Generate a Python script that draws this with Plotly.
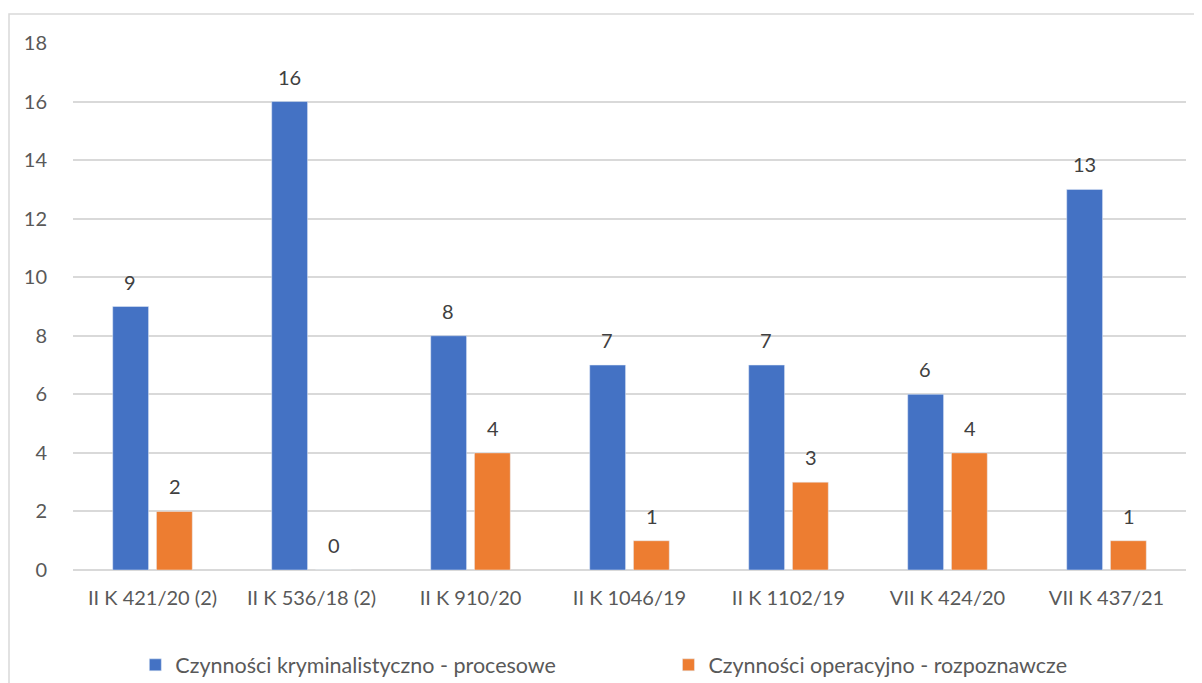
import plotly.graph_objects as go

cases = ["II K 421/20 (2)", "II K 536/18 (2)", "II K 910/20", "II K 1046/19",
         "II K 1102/19", "VII K 424/20", "VII K 437/21"]
procesowe = [9, 16, 8, 7, 7, 6, 13]
rozpoznawcze = [2, 0, 4, 1, 3, 4, 1]

blue = "#4472C4"
orange = "#ED7D31"
font = "Lato"
fs = 20

fig = go.Figure()
fig.add_bar(x=cases, y=procesowe, name="Czynności kryminalistyczno - procesowe",
            marker_color=blue, legend="legend")
fig.add_bar(x=cases, y=rozpoznawcze, name="Czynności operacyjno - rozpoznawcze",
            marker_color=orange, legend="legend2")

# data labels above each bar
for i, c in enumerate(cases):
    for val, shift in ((procesowe[i], -22.5), (rozpoznawcze[i], 22.5)):
        fig.add_annotation(x=c, y=val, text=str(val), showarrow=False,
                           xshift=shift, yanchor="bottom", yshift=11,
                           font=dict(family=font, size=fs, color="#404040"))

# chart border
fig.add_shape(type="rect", xref="paper", yref="paper",
              x0=-0.0575, x1=1.03, y0=-0.25, y1=1.055,
              line=dict(color="#d9d9d9", width=1.5), layer="below")

leg = dict(orientation="h", y=-0.18, yanchor="middle", xanchor="left",
           font=dict(family=font, size=21.5, color="#595959"), itemwidth=30)
fig.update_layout(
    width=1202, height=683,
    margin=dict(l=65, r=24, t=35, b=121, autoexpand=False),
    plot_bgcolor="white", paper_bgcolor="white",
    barmode="group", bargap=0.45, bargroupgap=0.18,
    font=dict(family=font, size=fs, color="#595959"),
    showlegend=True,
    legend=dict(leg, x=0.056),
    legend2=dict(leg, x=0.535),
)
fig.update_xaxes(showgrid=False, showline=False, ticks="", automargin=False,
                 ticklabelstandoff=14, tickfont=dict(size=fs))
fig.update_yaxes(range=[0, 18], dtick=2, showgrid=True, gridcolor="#d9d9d9", gridwidth=1.5,
                 zeroline=True, zerolinecolor="#d9d9d9", zerolinewidth=1.5, automargin=False,
                 ticks="", ticklabelstandoff=25, tickfont=dict(size=fs))

fig.write_html("out.html")
